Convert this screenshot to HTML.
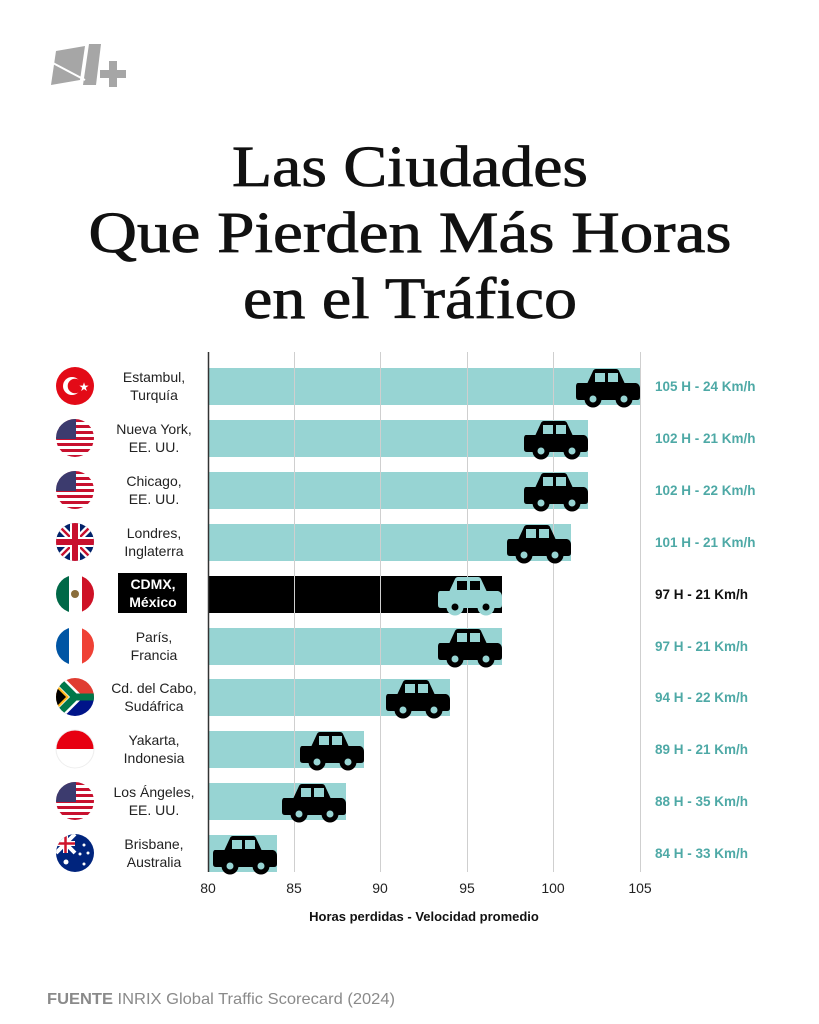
<!DOCTYPE html>
<html><head><meta charset="utf-8"><style>
html,body{margin:0;padding:0;background:#fff;}
svg{display:block}
</style></head><body>
<svg width="819" height="1024" viewBox="0 0 819 1024" xmlns="http://www.w3.org/2000/svg">
<defs>
<g id="car">
  <path d="M11,15 L17,2 Q18,0 20,0 L40,0 Q42,0 43,2 L49,15 Z" fill="currentColor"/>
  <path d="M2,14 L60,14 Q64,15 64,20 L64,28 Q64,31 61,31 L3,31 Q0,31 0,28 L0,18 Q0,14 2,14 Z" fill="currentColor"/>
  <rect x="19" y="4" width="10" height="9" fill="var(--w)"/>
  <rect x="32" y="4" width="10" height="9" fill="var(--w)"/>
  <circle cx="17" cy="30" r="8.5" fill="currentColor"/>
  <circle cx="48" cy="30" r="8.5" fill="currentColor"/>
  <circle cx="17" cy="30" r="3.5" fill="var(--w)"/>
  <circle cx="48" cy="30" r="3.5" fill="var(--w)"/>
</g>
<clipPath id="c1"><circle cx="75" cy="438" r="19"/></clipPath>
<clipPath id="c2"><circle cx="75" cy="490" r="19"/></clipPath>
<clipPath id="c3"><circle cx="75" cy="801" r="19"/></clipPath>
<clipPath id="uk"><circle cx="75" cy="542" r="19"/></clipPath>
<clipPath id="fr"><circle cx="75" cy="646" r="19"/></clipPath>
<clipPath id="mx"><circle cx="75" cy="594" r="19"/></clipPath>
<clipPath id="za"><circle cx="75" cy="697" r="19"/></clipPath>
<clipPath id="id"><circle cx="75" cy="749" r="19"/></clipPath>
<clipPath id="au"><circle cx="75" cy="853" r="19"/></clipPath>
<g id="us">
  <rect x="-19" y="-19" width="38" height="38" fill="#fff"/>
  <rect x="-19" y="-19" width="38" height="3" fill="#c8102e"/>
  <rect x="-19" y="-13" width="38" height="3" fill="#c8102e"/>
  <rect x="-19" y="-7" width="38" height="3" fill="#c8102e"/>
  <rect x="-19" y="-1" width="38" height="3" fill="#c8102e"/>
  <rect x="-19" y="5" width="38" height="3" fill="#c8102e"/>
  <rect x="-19" y="11" width="38" height="3" fill="#c8102e"/>
  <rect x="-19" y="17" width="38" height="3" fill="#c8102e"/>
  <rect x="-19" y="-19" width="20" height="20" fill="#3c3b6e"/>
</g>
</defs>

<!-- logo -->
<polygon points="56,51 85,46 80,80 51,85" fill="#a6a6a6"/>
<polygon points="89,44 101,44 96,85 83,85" fill="#a6a6a6"/>
<line x1="51" y1="62" x2="85" y2="80" stroke="#fff" stroke-width="2"/>
<rect x="100" y="70" width="26" height="8" fill="#a6a6a6"/>
<rect x="109" y="61" width="8" height="26" fill="#a6a6a6"/>

<!-- title -->
<g font-family="Liberation Serif, serif" font-size="58" text-anchor="middle" fill="#111" stroke="#111" stroke-width="0.8" lengthAdjust="spacingAndGlyphs">
<text x="410" y="186" textLength="356" lengthAdjust="spacingAndGlyphs">Las Ciudades</text>
<text x="410" y="252" textLength="643" lengthAdjust="spacingAndGlyphs">Que Pierden Más Horas</text>
<text x="410" y="318" textLength="334" lengthAdjust="spacingAndGlyphs">en el Tráfico</text>
</g>

<!-- bars -->
<g fill="#97d4d3">
<rect x="208" y="368" width="432" height="37"/>
<rect x="208" y="420" width="380" height="37"/>
<rect x="208" y="472" width="380" height="37"/>
<rect x="208" y="524" width="363" height="37"/>
<rect x="208" y="628" width="294" height="37"/>
<rect x="208" y="679" width="242" height="37"/>
<rect x="208" y="731" width="156" height="37"/>
<rect x="208" y="783" width="138" height="37"/>
<rect x="208" y="835" width="69" height="37"/>
</g>
<rect x="208" y="576" width="294" height="37" fill="#000"/>

<!-- grid -->
<g stroke="#cfcfcf" stroke-width="1">
<line x1="294.5" y1="352" x2="294.5" y2="872"/>
<line x1="380.5" y1="352" x2="380.5" y2="872"/>
<line x1="467.5" y1="352" x2="467.5" y2="872"/>
<line x1="553.5" y1="352" x2="553.5" y2="872"/>
<line x1="640.5" y1="352" x2="640.5" y2="872"/>
</g>
<line x1="208.5" y1="352" x2="208.5" y2="872" stroke="#333" stroke-width="1.5"/>

<!-- cars -->
<g style="color:#000;--w:#97d4d3">
<use href="#car" x="576" y="369"/>
<use href="#car" x="524" y="421"/>
<use href="#car" x="524" y="473"/>
<use href="#car" x="507" y="525"/>
<use href="#car" x="438" y="629"/>
<use href="#car" x="386" y="680"/>
<use href="#car" x="300" y="732"/>
<use href="#car" x="282" y="784"/>
<use href="#car" x="213" y="836"/>
</g>
<g style="color:#97d4d3;--w:#000"><use href="#car" x="438" y="577"/></g>

<!-- flags -->
<circle cx="75" cy="386" r="19" fill="#e30a17"/>
<circle cx="72" cy="386" r="9" fill="#fff"/>
<circle cx="75" cy="386" r="7.3" fill="#e30a17"/>
<text x="84" y="391" font-size="12" fill="#fff" text-anchor="middle" font-family="DejaVu Sans">★</text>
<g clip-path="url(#c1)"><use href="#us" x="75" y="438"/></g>
<g clip-path="url(#c2)"><use href="#us" x="75" y="490"/></g>
<g clip-path="url(#c3)"><use href="#us" x="75" y="801"/></g>
<g clip-path="url(#uk)">
  <rect x="56" y="523" width="38" height="38" fill="#012169"/>
  <path d="M56,523 L94,561 M94,523 L56,561" stroke="#fff" stroke-width="7"/>
  <path d="M56,523 L94,561 M94,523 L56,561" stroke="#c8102e" stroke-width="2.5"/>
  <path d="M75,523 V561 M56,542 H94" stroke="#fff" stroke-width="10"/>
  <path d="M75,523 V561 M56,542 H94" stroke="#c8102e" stroke-width="6"/>
</g>
<g clip-path="url(#mx)">
  <rect x="56" y="575" width="13" height="38" fill="#006847"/>
  <rect x="69" y="575" width="13" height="38" fill="#fff"/>
  <rect x="82" y="575" width="13" height="38" fill="#ce1126"/>
  <circle cx="75" cy="594" r="4" fill="#8a6d3b"/>
</g>
<g clip-path="url(#fr)">
  <rect x="56" y="627" width="13" height="38" fill="#0055a4"/>
  <rect x="69" y="627" width="13" height="38" fill="#fff"/>
  <rect x="82" y="627" width="13" height="38" fill="#ef4135"/>
</g>
<g clip-path="url(#za)">
  <rect x="56" y="678" width="38" height="19" fill="#e03c31"/>
  <rect x="56" y="697" width="38" height="19" fill="#001489"/>
  <path d="M56,678 L75,697 L56,716" fill="none" stroke="#fff" stroke-width="12"/>
  <path d="M56,678 L75,697 H94 M75,697 L56,716" fill="none" stroke="#007749" stroke-width="7"/>
  <path d="M56,684 L69,697 L56,710 Z" fill="#ffb81c"/>
  <path d="M56,687 L66,697 L56,707 Z" fill="#000"/>
</g>
<g clip-path="url(#id)">
  <rect x="56" y="730" width="38" height="19" fill="#e70011"/>
  <rect x="56" y="749" width="38" height="19" fill="#fff"/>
</g>
<circle cx="75" cy="749" r="19" fill="none" stroke="#eee" stroke-width="1"/>
<g clip-path="url(#au)">
  <rect x="56" y="834" width="38" height="38" fill="#00247d"/>
  <path d="M56,834 L75,853 M75,834 L56,853" stroke="#fff" stroke-width="4"/>
  <path d="M65.5,834 V853 M56,843.5 H75" stroke="#fff" stroke-width="5"/>
  <path d="M65.5,834 V853 M56,843.5 H75" stroke="#cf142b" stroke-width="2.5"/>
  <circle cx="66" cy="862" r="2.5" fill="#fff"/>
  <circle cx="84" cy="845" r="1.5" fill="#fff"/>
  <circle cx="88" cy="853" r="1.5" fill="#fff"/>
  <circle cx="84" cy="864" r="1.5" fill="#fff"/>
  <circle cx="80" cy="854" r="1.5" fill="#fff"/>
</g>

<!-- city labels -->
<g font-family="Liberation Sans Narrow, Liberation Sans, sans-serif" font-size="14" fill="#222" text-anchor="middle">
<text x="154" y="382">Estambul,</text><text x="154" y="400">Turquía</text>
<text x="154" y="434">Nueva York,</text><text x="154" y="452">EE. UU.</text>
<text x="154" y="486">Chicago,</text><text x="154" y="504">EE. UU.</text>
<text x="154" y="538">Londres,</text><text x="154" y="556">Inglaterra</text>
<text x="154" y="642">París,</text><text x="154" y="660">Francia</text>
<text x="154" y="693">Cd. del Cabo,</text><text x="154" y="711">Sudáfrica</text>
<text x="154" y="745">Yakarta,</text><text x="154" y="763">Indonesia</text>
<text x="154" y="797">Los Ángeles,</text><text x="154" y="815">EE. UU.</text>
<text x="154" y="849">Brisbane,</text><text x="154" y="867">Australia</text>
</g>
<rect x="118" y="573" width="69" height="40" fill="#000"/>
<g font-family="Liberation Sans Narrow, Liberation Sans, sans-serif" font-size="14" font-weight="bold" fill="#fff" text-anchor="middle">
<text x="153" y="589">CDMX,</text><text x="153" y="607">México</text>
</g>

<!-- values -->
<g font-family="Liberation Sans, sans-serif" font-size="13.5" font-weight="bold" fill="#4ea9a6">
<text x="655" y="391">105 H - 24 Km/h</text>
<text x="655" y="443">102 H - 21 Km/h</text>
<text x="655" y="495">102 H - 22 Km/h</text>
<text x="655" y="547">101 H - 21 Km/h</text>
<text x="655" y="599" fill="#111">97 H - 21 Km/h</text>
<text x="655" y="651">97 H - 21 Km/h</text>
<text x="655" y="702">94 H - 22 Km/h</text>
<text x="655" y="754">89 H - 21 Km/h</text>
<text x="655" y="806">88 H - 35 Km/h</text>
<text x="655" y="858">84 H - 33 Km/h</text>
</g>

<!-- x axis -->
<g font-family="Liberation Sans, sans-serif" font-size="14" fill="#222" text-anchor="middle">
<text x="208" y="893">80</text><text x="294" y="893">85</text><text x="380" y="893">90</text>
<text x="467" y="893">95</text><text x="553" y="893">100</text><text x="640" y="893">105</text>
</g>
<text x="424" y="921" font-family="Liberation Sans Narrow, Liberation Sans, sans-serif" font-size="13" font-weight="bold" fill="#111" text-anchor="middle">Horas perdidas - Velocidad promedio</text>

<!-- source -->
<text x="47" y="1004" font-family="Liberation Sans, sans-serif" font-size="16" fill="#8a8a8a" textLength="348" lengthAdjust="spacingAndGlyphs"><tspan font-weight="bold">FUENTE</tspan> INRIX Global Traffic Scorecard (2024)</text>
</svg>
</body></html>
